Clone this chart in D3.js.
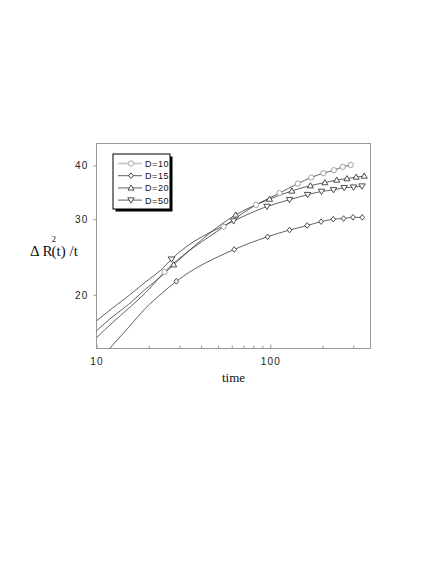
<!DOCTYPE html>
<html>
<head>
<meta charset="utf-8">
<script src="https://cdn.jsdelivr.net/npm/d3@7"></script>
<style>
  html, body { margin: 0; padding: 0; background: #fff; }
  svg { display: block; }
</style>
</head>
<body>
<svg id="chart" width="436" height="564"></svg>
<script>
// ---- data ----
const seriesNames = ["D=10", "D=15", "D=20", "D=50"];

const time10 = [10, 12.3, 15.3, 19.1, 24.6, 53.9, 82.8, 113, 144, 172, 202, 232, 261, 290];
const val10  = [15.9, 17.2, 18.6, 20.2, 22.6, 28.8, 32.4, 34.5, 36.3, 37.5, 38.4, 39.0, 39.7, 40.1];
const markFrom10 = 4;

const time15 = [11.9, 15.3, 19.1, 23.9, 28.8, 62, 96.4, 129, 163, 196, 230, 264, 299, 338];
const val15  = [15.0, 16.8, 18.6, 20.2, 21.5, 25.5, 27.3, 28.3, 29.0, 29.6, 30.0, 30.1, 30.3, 30.3];
const markFrom15 = 4;

const time20 = [10, 12.3, 15.3, 19.1, 23.9, 27.8, 63.2, 99, 133, 170, 206, 241, 276, 312, 347];
const val20  = [16.5, 17.75, 19.0, 20.6, 22.2, 23.5, 30.7, 33.4, 34.9, 35.9, 36.5, 37.0, 37.3, 37.6, 37.8];
const markFrom20 = 5;

const time50 = [10, 12.3, 15.3, 19.1, 23.9, 27, 61.5, 95.7, 129, 164, 197, 231, 266, 301, 337];
const val50  = [17.4, 18.6, 19.9, 21.4, 23.0, 24.2, 29.7, 32.1, 33.3, 34.2, 34.8, 35.1, 35.5, 35.6, 35.8];
const markFrom50 = 5;

const xMajorTicks = [10, 100];
const xMinorTicks = [20, 30, 40, 50, 60, 70, 80, 90, 200, 300];
const yTicks = [20, 30, 40];

// ---- build ----
const series = [
  { name: seriesNames[0], t: time10, v: val10, from: markFrom10, shape: "circle", mcol: "#8c8c8c" },
  { name: seriesNames[1], t: time15, v: val15, from: markFrom15, shape: "diamond", mcol: "#222" },
  { name: seriesNames[2], t: time20, v: val20, from: markFrom20, shape: "up", mcol: "#222" },
  { name: seriesNames[3], t: time50, v: val50, from: markFrom50, shape: "down", mcol: "#222" }
];

const L = 96.5, R = 370.5, T = 143.5, B = 348.5;
const x = d3.scaleLog().domain([10, 377]).range([L, R]);
const y = d3.scaleLog().domain([15, 45]).range([B, T]);

const svg = d3.select("#chart");

svg.append("defs").append("clipPath").attr("id", "plotclip")
  .append("rect").attr("x", L).attr("y", T).attr("width", R - L).attr("height", B - T);

// frame
svg.append("rect").attr("x", L).attr("y", T).attr("width", R - L).attr("height", B - T)
  .attr("fill", "none").attr("stroke", "#999").attr("stroke-width", 1);

// x axis ticks (inward)
const xAxis = d3.axisBottom(x).tickValues(xMajorTicks).tickSize(-4).tickFormat(d3.format("d"));
const gx = svg.append("g").attr("transform", `translate(0,${B})`).call(xAxis);
gx.select(".domain").remove();
gx.selectAll(".tick line").attr("stroke", "#999");
gx.selectAll(".tick text").attr("dy", "1.05em").attr("y", 6)
  .style("font-family", "Liberation Sans, Arial, sans-serif").style("font-size", "10px")
  .style("letter-spacing", "1.2px").attr("fill", "#222");

const xMinor = d3.axisBottom(x).tickValues(xMinorTicks).tickSize(-3).tickFormat("");
const gxm = svg.append("g").attr("transform", `translate(0,${B})`).call(xMinor);
gxm.select(".domain").remove();
gxm.selectAll(".tick line").attr("stroke", "#999");

// y axis
const yAxis = d3.axisLeft(y).tickValues(yTicks).tickSize(3).tickPadding(5).tickFormat(d3.format("d"));
const gy = svg.append("g").attr("transform", `translate(${L},0)`).call(yAxis);
gy.select(".domain").remove();
gy.selectAll(".tick line").attr("stroke", "#999");
gy.selectAll(".tick text")
  .style("font-family", "Liberation Sans, Arial, sans-serif").style("font-size", "10px")
  .style("letter-spacing", "1.2px").attr("fill", "#222");

// axis titles
svg.append("text").attr("x", (L + R) / 2).attr("y", 382).attr("text-anchor", "middle")
  .style("font-family", "Liberation Serif, Times New Roman, serif").style("font-size", "13px")
  .attr("fill", "#111").text("time");

const yl = svg.append("text").attr("x", 30).attr("y", 256)
  .style("font-family", "Liberation Serif, Times New Roman, serif").style("font-size", "15px")
  .attr("fill", "#111");
yl.append("tspan").text("\u0394 R");
yl.append("tspan").attr("dx", -1).attr("dy", -14).style("font-size", "9px").text("2");
yl.append("tspan").attr("dx", -4.5).attr("dy", 14).text("(t) /t");

// markers
function markerPath(shape) {
  switch (shape) {
    case "circle": return d3.symbol(d3.symbolCircle, 22)();
    case "diamond": return "M0,-2.8L2.3,0L0,2.8L-2.3,0Z";
    case "up": return "M0,-3L3,2.2L-3,2.2Z";
    case "down": return "M0,3L3.2,-2.3L-3.2,-2.3Z";
  }
}

const line = d3.line().curve(d3.curveMonotoneX).x(d => x(d[0])).y(d => y(d[1]));
const plot = svg.append("g").attr("clip-path", "url(#plotclip)");

series.forEach(s => {
  const pts = s.t.map((t, i) => [t, s.v[i]]);
  plot.append("path").datum(pts).attr("d", line)
    .attr("fill", "none").attr("stroke", "#3a3a3a").attr("stroke-width", 0.8);
});
series.forEach(s => {
  const pts = s.t.map((t, i) => [t, s.v[i]]).slice(s.from);
  svg.append("g").selectAll("path").data(pts).join("path")
    .attr("transform", d => `translate(${x(d[0])},${y(d[1])})`)
    .attr("d", markerPath(s.shape))
    .attr("fill", "#fff").attr("stroke", s.mcol).attr("stroke-width", 0.8);
});

// legend
const lg = svg.append("g");
const lx = 113, ly = 154, lw = 57, lh = 55;
lg.append("rect").attr("x", lx + 2.5).attr("y", ly + 2.5).attr("width", lw).attr("height", lh).attr("fill", "#000");
lg.append("rect").attr("x", lx).attr("y", ly).attr("width", lw).attr("height", lh)
  .attr("fill", "#fff").attr("stroke", "#000").attr("stroke-width", 1);
series.forEach((s, i) => {
  const yy = 163.5 + i * 12.2;
  lg.append("line").attr("x1", 118).attr("x2", 142).attr("y1", yy).attr("y2", yy)
    .attr("stroke", i === 0 ? "#c4c4c4" : "#3a3a3a").attr("stroke-width", i === 0 ? 1.6 : 0.8);
  lg.append("path").attr("transform", `translate(131,${yy})`).attr("d", markerPath(s.shape))
    .attr("fill", "#fff").attr("stroke", s.mcol).attr("stroke-width", 0.8);
  lg.append("text").attr("x", 145).attr("y", yy + 3.5)
    .style("font-family", "Liberation Sans, Arial, sans-serif").style("font-size", "9px")
    .style("letter-spacing", "0.6px").attr("fill", "#111").text(s.name);
});
</script>
</body>
</html>
